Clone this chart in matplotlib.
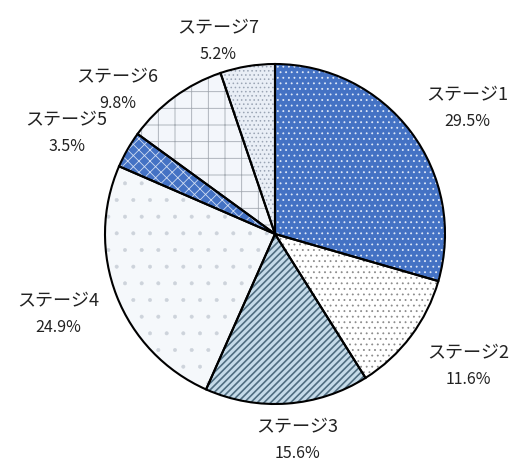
import numpy as np
import matplotlib.pyplot as plt

plt.rcParams['font.family'] = ['Noto Sans CJK JP', 'DejaVu Sans']
plt.rcParams['hatch.linewidth'] = 0.6

names = ['ステージ1', 'ステージ2', 'ステージ3', 'ステージ4', 'ステージ5', 'ステージ6', 'ステージ7']
shares = [29.5, 11.6, 15.6, 24.9, 3.5, 9.8, 5.2]

faces = ['#4472c4', '#ffffff', '#c5dbe9', '#f5f8fb', '#4472c4', '#f3f6fb', '#e9eef6']
hatch_cols = ['#dfe8f7', '#8c8c8c', '#4f6d80', '#cdd3db', '#cfdcf2', '#a4aab2', '#9aa4b4']
hatches = ['...', '...', '/////', '.', 'xxx', '+', '....']
hatch_lw = [0.6, 0.6, 1.2, 0.4, 0.6, 0.6, 0.6]
# label placement relative to wedge middle (distance in radii, angle shift in degrees)
lab_dist = [1.354, 1.372, 1.213, 1.356, 1.365, 1.26, 1.19]
lab_shift = [-3.4, 2.9, 2.1, -1.3, 3.7, 11.1, 6.9]

fig = plt.figure(figsize=(5.13, 4.64), dpi=100)
ax = fig.add_axes([0, 0, 1, 1])

# fill + hatch layer
wedges, _ = ax.pie(shares, startangle=90, counterclock=False, radius=1,
                   colors=faces, wedgeprops=dict(linewidth=0))
for w, h, hc, hl in zip(wedges, hatches, hatch_cols, hatch_lw):
    w.set_hatch(h)
    w.set_edgecolor(hc)
    if hasattr(w, 'set_hatch_linewidth'):
        w.set_hatch_linewidth(hl)
# outline layer
ax.pie(shares, startangle=90, counterclock=False, radius=1,
       wedgeprops=dict(fill=False, edgecolor='black', linewidth=1.5))

for w, n, s, d, sh in zip(wedges, names, shares, lab_dist, lab_shift):
    ang = np.deg2rad((w.theta1 + w.theta2) / 2 + sh)
    x, y = d * np.cos(ang), d * np.sin(ang)
    ax.text(x, y + 0.075, n, ha='center', va='center', fontsize=13, color='#222222')
    ax.text(x, y - 0.08, '{:.1f}%'.format(s), ha='center', va='center',
            fontsize=11.5, color='#222222')

# pie centre at (275,235) px, radius ~170 px
ax.set_xlim(-275 / 170, (513 - 275) / 170)
ax.set_ylim(-(464 - 235) / 170, 235 / 170)
ax.set_aspect('auto')
ax.axis('off')

fig.savefig('out.png', dpi=100)
